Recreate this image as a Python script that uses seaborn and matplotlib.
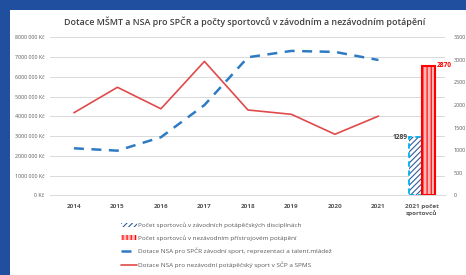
import matplotlib
matplotlib.use("Agg")
import matplotlib.pyplot as plt
import seaborn as sns
import pandas as pd
from matplotlib.patches import Rectangle, Patch
from matplotlib.lines import Line2D
from matplotlib.ticker import FuncFormatter, MultipleLocator

# ---- data ----
categories = ["2014", "2015", "2016", "2017", "2018", "2019", "2020", "2021", "2021 počet\nsportovců"]
years = ["2014", "2015", "2016", "2017", "2018", "2019", "2020", "2021"]
dotace_zavodni = [2380000, 2260000, 2940000, 4570000, 6990000, 7310000, 7260000, 6850000]
dotace_nezavodni = [4180000, 5470000, 4380000, 6780000, 4320000, 4100000, 3090000, 4010000]
pocet_zavodni = [1289]
pocet_nezavodni = [2870]

title = "Dotace MŠMT a NSA pro SPČR a počty sportovců v závodním a nezávodním potápění"
leg_labels = [
    "Počet sportovců v závodních potápěčských disciplínách",
    "Počet sportovců v nezávodním přístrojovém potápění",
    "Dotace NSA pro SPČR závodní sport, reprezentaci a talent.mládež",
    "Dotace NSA pro nezávodní potápěčský sport v SČP a SPMS",
]

sns.set_theme(style="white")
plt.rcParams["font.family"] = ["Open Sans", "DejaVu Sans"]
plt.rcParams["hatch.linewidth"] = 0.8

BLUE = "#2e7bc4"
RED = "#e04a4a"
TXT = "#595959"

fig = plt.figure(figsize=(4.66, 2.75), dpi=100)
fig.patch.set_facecolor("#1f4f9e")
W, H = 466, 275
fig.patches.append(Rectangle((10 / W, 0), 1, 1 - 10 / H, transform=fig.transFigure,
                             facecolor="white", edgecolor="none", zorder=-10))

ax = fig.add_axes([50 / W, 1 - 195.3 / H, (445 - 50) / W, (195.3 - 37.3) / H])
ax.set_facecolor("none")

df = pd.DataFrame({"x": list(range(len(years))),
                   "zav": dotace_zavodni, "nez": dotace_nezavodni})
sns.lineplot(data=df, x="x", y="nez", ax=ax, color=RED, lw=1.2)
sns.lineplot(data=df, x="x", y="zav", ax=ax, color=BLUE, lw=1.8)
ax.lines[-1].set_dashes([4, 3])

ax.set_xlim(-0.55, len(categories) - 1 + 0.53)
ax.set_ylim(0, 8e6)
ax.yaxis.set_major_locator(MultipleLocator(1e6))


def kc(v, pos):
    v = int(round(v))
    if v == 0:
        return "0 Kč"
    return f"{v // 1000:d} {v % 1000:03d} Kč"


ax.yaxis.set_major_formatter(FuncFormatter(kc))
ax.grid(axis="y", color="#d9d9d9", lw=0.7)
ax.set_axisbelow(True)
for s in ["top", "right", "left"]:
    ax.spines[s].set_visible(False)
ax.spines["bottom"].set_color("#d9d9d9")
ax.spines["bottom"].set_linewidth(0.7)
ax.set_xticks(range(len(categories)))
ax.set_xticklabels(categories, fontsize=4.6, fontweight="bold", color=TXT, linespacing=1.3)
ax.tick_params(axis="x", length=0, pad=6)
ax.tick_params(axis="y", length=0, labelsize=3.9, labelcolor=TXT, pad=4)
ax.set_xlabel("")
ax.set_ylabel("")

ax2 = ax.twinx()
ax2.set_ylim(0, 3500)
ax2.yaxis.set_major_locator(MultipleLocator(500))
ax2.tick_params(axis="y", length=0, labelsize=3.9, labelcolor=TXT, pad=6)
for s in ax2.spines.values():
    s.set_visible(False)

xb = len(categories) - 1
bw = 0.28
b1x = xb - bw / 2 - 0.01
b2x = xb + bw / 2 + 0.01
ax2.bar([b1x], pocet_zavodni, width=bw, facecolor="white", edgecolor="#2e5f9e",
        hatch="//////", lw=0, zorder=2)
ax2.bar([b1x], pocet_zavodni, width=bw, facecolor="none", edgecolor="#00b0f0",
        lw=1.3, linestyle=(0, (3, 2)), zorder=3)
ax2.bar([b2x], pocet_nezavodni, width=bw, facecolor="#ffb8b8", edgecolor="#ff0000",
        hatch="||||", lw=0, zorder=2)
ax2.bar([b2x], pocet_nezavodni, width=bw, facecolor="none", edgecolor="#ff0000",
        lw=1.5, zorder=3)
ax2.text(b1x - bw / 2 - 0.05, pocet_zavodni[0], str(pocet_zavodni[0]), ha="right", va="center",
         fontsize=4.8, color="#404040", fontweight="bold")
ax2.text(b2x + bw / 2 + 0.06, pocet_nezavodni[0], str(pocet_nezavodni[0]), ha="left", va="center",
         fontsize=4.8, color="#ff0000", fontweight="bold")

fig.text(245 / W, 1 - 22 / H, title, ha="center", va="center", fontsize=6.4,
         fontweight="semibold", color="#404040")

handles = [
    Patch(facecolor="white", edgecolor="#2e5f9e", hatch="//////", lw=0),
    Patch(facecolor="#ffb8b8", edgecolor="#ff0000", hatch="||||", lw=0),
    Line2D([], [], color=BLUE, lw=1.8, dashes=[4, 3]),
    Line2D([], [], color=RED, lw=1.2),
]
leg = fig.legend(handles, leg_labels, loc="upper left", bbox_to_anchor=(118 / W, 1 - 220 / H),
                 frameon=False, fontsize=4.6, labelspacing=1.1, handlelength=2.6,
                 handletextpad=0.2, borderaxespad=0)
for t in leg.get_texts():
    t.set_color(TXT)

fig.savefig("out.png", dpi=100, facecolor=fig.get_facecolor())
